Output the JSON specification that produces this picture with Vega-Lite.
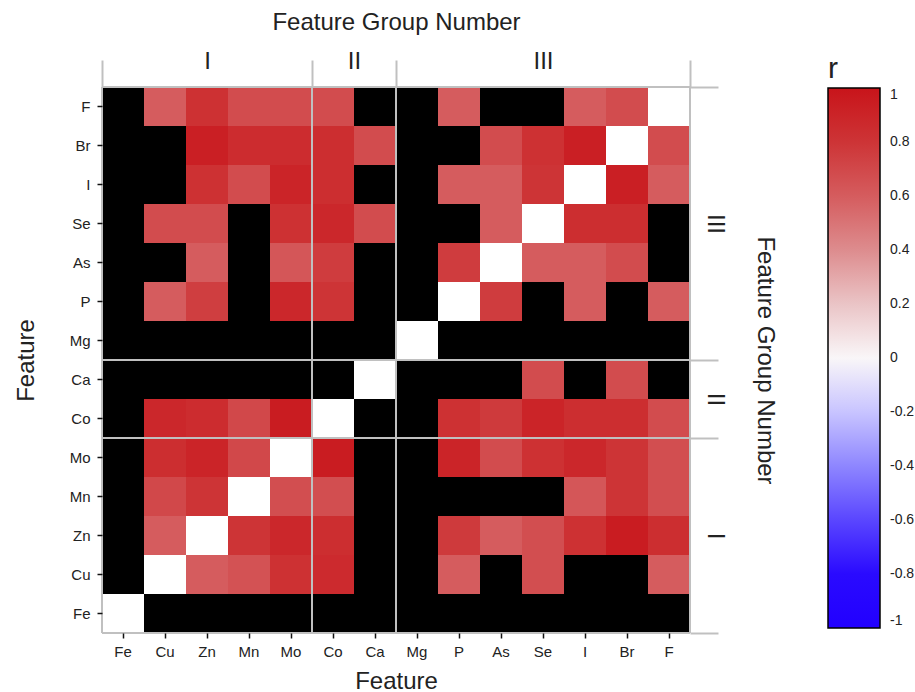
{
  "$schema": "https://vega.github.io/schema/vega-lite/v6.json",
  "width": 588,
  "height": 546,
  "autosize": {"type": "none"},
  "padding": {"left": 102, "top": 87, "right": 225, "bottom": 59},
  "background": "white",
  "config": {"font": "Liberation Sans", "view": {"stroke": null}},
  "datasets": {
    "groups": [
      {"group": "I", "start": 0, "end": 5},
      {"group": "II", "start": 5, "end": 7},
      {"group": "III", "start": 7, "end": 14}
    ],
    "cells": [
      {"x":"Fe","y":"F","r":null},{"x":"Cu","y":"F","r":0.6},{"x":"Zn","y":"F","r":0.82},{"x":"Mn","y":"F","r":0.68},{"x":"Mo","y":"F","r":0.68},{"x":"Co","y":"F","r":0.68},{"x":"Ca","y":"F","r":null},{"x":"Mg","y":"F","r":null},{"x":"P","y":"F","r":0.6},{"x":"As","y":"F","r":null},{"x":"Se","y":"F","r":null},{"x":"I","y":"F","r":0.6},{"x":"Br","y":"F","r":0.68},{"x":"F","y":"F","r":1},
      {"x":"Fe","y":"Br","r":null},{"x":"Cu","y":"Br","r":null},{"x":"Zn","y":"Br","r":0.93},{"x":"Mn","y":"Br","r":0.85},{"x":"Mo","y":"Br","r":0.85},{"x":"Co","y":"Br","r":0.84},{"x":"Ca","y":"Br","r":0.68},{"x":"Mg","y":"Br","r":null},{"x":"P","y":"Br","r":null},{"x":"As","y":"Br","r":0.68},{"x":"Se","y":"Br","r":0.82},{"x":"I","y":"Br","r":0.93},{"x":"Br","y":"Br","r":1},{"x":"F","y":"Br","r":0.68},
      {"x":"Fe","y":"I","r":null},{"x":"Cu","y":"I","r":null},{"x":"Zn","y":"I","r":0.82},{"x":"Mn","y":"I","r":0.68},{"x":"Mo","y":"I","r":0.9},{"x":"Co","y":"I","r":0.84},{"x":"Ca","y":"I","r":null},{"x":"Mg","y":"I","r":null},{"x":"P","y":"I","r":0.6},{"x":"As","y":"I","r":0.6},{"x":"Se","y":"I","r":0.8},{"x":"I","y":"I","r":1},{"x":"Br","y":"I","r":0.93},{"x":"F","y":"I","r":0.6},
      {"x":"Fe","y":"Se","r":null},{"x":"Cu","y":"Se","r":0.68},{"x":"Zn","y":"Se","r":0.68},{"x":"Mn","y":"Se","r":null},{"x":"Mo","y":"Se","r":0.82},{"x":"Co","y":"Se","r":0.88},{"x":"Ca","y":"Se","r":0.68},{"x":"Mg","y":"Se","r":null},{"x":"P","y":"Se","r":null},{"x":"As","y":"Se","r":0.6},{"x":"Se","y":"Se","r":1},{"x":"I","y":"Se","r":0.84},{"x":"Br","y":"Se","r":0.84},{"x":"F","y":"Se","r":null},
      {"x":"Fe","y":"As","r":null},{"x":"Cu","y":"As","r":null},{"x":"Zn","y":"As","r":0.6},{"x":"Mn","y":"As","r":null},{"x":"Mo","y":"As","r":0.63},{"x":"Co","y":"As","r":0.76},{"x":"Ca","y":"As","r":null},{"x":"Mg","y":"As","r":null},{"x":"P","y":"As","r":0.76},{"x":"As","y":"As","r":1},{"x":"Se","y":"As","r":0.6},{"x":"I","y":"As","r":0.6},{"x":"Br","y":"As","r":0.68},{"x":"F","y":"As","r":null},
      {"x":"Fe","y":"P","r":null},{"x":"Cu","y":"P","r":0.6},{"x":"Zn","y":"P","r":0.75},{"x":"Mn","y":"P","r":null},{"x":"Mo","y":"P","r":0.88},{"x":"Co","y":"P","r":0.8},{"x":"Ca","y":"P","r":null},{"x":"Mg","y":"P","r":null},{"x":"P","y":"P","r":1},{"x":"As","y":"P","r":0.76},{"x":"Se","y":"P","r":null},{"x":"I","y":"P","r":0.6},{"x":"Br","y":"P","r":null},{"x":"F","y":"P","r":0.6},
      {"x":"Fe","y":"Mg","r":null},{"x":"Cu","y":"Mg","r":null},{"x":"Zn","y":"Mg","r":null},{"x":"Mn","y":"Mg","r":null},{"x":"Mo","y":"Mg","r":null},{"x":"Co","y":"Mg","r":null},{"x":"Ca","y":"Mg","r":null},{"x":"Mg","y":"Mg","r":1},{"x":"P","y":"Mg","r":null},{"x":"As","y":"Mg","r":null},{"x":"Se","y":"Mg","r":null},{"x":"I","y":"Mg","r":null},{"x":"Br","y":"Mg","r":null},{"x":"F","y":"Mg","r":null},
      {"x":"Fe","y":"Ca","r":null},{"x":"Cu","y":"Ca","r":null},{"x":"Zn","y":"Ca","r":null},{"x":"Mn","y":"Ca","r":null},{"x":"Mo","y":"Ca","r":null},{"x":"Co","y":"Ca","r":null},{"x":"Ca","y":"Ca","r":1},{"x":"Mg","y":"Ca","r":null},{"x":"P","y":"Ca","r":null},{"x":"As","y":"Ca","r":null},{"x":"Se","y":"Ca","r":0.68},{"x":"I","y":"Ca","r":null},{"x":"Br","y":"Ca","r":0.68},{"x":"F","y":"Ca","r":null},
      {"x":"Fe","y":"Co","r":null},{"x":"Cu","y":"Co","r":0.88},{"x":"Zn","y":"Co","r":0.85},{"x":"Mn","y":"Co","r":0.7},{"x":"Mo","y":"Co","r":0.95},{"x":"Co","y":"Co","r":1},{"x":"Ca","y":"Co","r":null},{"x":"Mg","y":"Co","r":null},{"x":"P","y":"Co","r":0.82},{"x":"As","y":"Co","r":0.77},{"x":"Se","y":"Co","r":0.9},{"x":"I","y":"Co","r":0.84},{"x":"Br","y":"Co","r":0.84},{"x":"F","y":"Co","r":0.68},
      {"x":"Fe","y":"Mo","r":null},{"x":"Cu","y":"Mo","r":0.84},{"x":"Zn","y":"Mo","r":0.9},{"x":"Mn","y":"Mo","r":0.7},{"x":"Mo","y":"Mo","r":1},{"x":"Co","y":"Mo","r":0.95},{"x":"Ca","y":"Mo","r":null},{"x":"Mg","y":"Mo","r":null},{"x":"P","y":"Mo","r":0.9},{"x":"As","y":"Mo","r":0.68},{"x":"Se","y":"Mo","r":0.82},{"x":"I","y":"Mo","r":0.88},{"x":"Br","y":"Mo","r":0.8},{"x":"F","y":"Mo","r":0.67},
      {"x":"Fe","y":"Mn","r":null},{"x":"Cu","y":"Mn","r":0.7},{"x":"Zn","y":"Mn","r":0.8},{"x":"Mn","y":"Mn","r":1},{"x":"Mo","y":"Mn","r":0.67},{"x":"Co","y":"Mn","r":0.67},{"x":"Ca","y":"Mn","r":null},{"x":"Mg","y":"Mn","r":null},{"x":"P","y":"Mn","r":null},{"x":"As","y":"Mn","r":null},{"x":"Se","y":"Mn","r":null},{"x":"I","y":"Mn","r":0.63},{"x":"Br","y":"Mn","r":0.8},{"x":"F","y":"Mn","r":0.67},
      {"x":"Fe","y":"Zn","r":null},{"x":"Cu","y":"Zn","r":0.6},{"x":"Zn","y":"Zn","r":1},{"x":"Mn","y":"Zn","r":0.8},{"x":"Mo","y":"Zn","r":0.88},{"x":"Co","y":"Zn","r":0.84},{"x":"Ca","y":"Zn","r":null},{"x":"Mg","y":"Zn","r":null},{"x":"P","y":"Zn","r":0.77},{"x":"As","y":"Zn","r":0.6},{"x":"Se","y":"Zn","r":0.67},{"x":"I","y":"Zn","r":0.82},{"x":"Br","y":"Zn","r":0.95},{"x":"F","y":"Zn","r":0.84},
      {"x":"Fe","y":"Cu","r":null},{"x":"Cu","y":"Cu","r":1},{"x":"Zn","y":"Cu","r":0.6},{"x":"Mn","y":"Cu","r":0.65},{"x":"Mo","y":"Cu","r":0.82},{"x":"Co","y":"Cu","r":0.86},{"x":"Ca","y":"Cu","r":null},{"x":"Mg","y":"Cu","r":null},{"x":"P","y":"Cu","r":0.6},{"x":"As","y":"Cu","r":null},{"x":"Se","y":"Cu","r":0.67},{"x":"I","y":"Cu","r":null},{"x":"Br","y":"Cu","r":null},{"x":"F","y":"Cu","r":0.6},
      {"x":"Fe","y":"Fe","r":1},{"x":"Cu","y":"Fe","r":null},{"x":"Zn","y":"Fe","r":null},{"x":"Mn","y":"Fe","r":null},{"x":"Mo","y":"Fe","r":null},{"x":"Co","y":"Fe","r":null},{"x":"Ca","y":"Fe","r":null},{"x":"Mg","y":"Fe","r":null},{"x":"P","y":"Fe","r":null},{"x":"As","y":"Fe","r":null},{"x":"Se","y":"Fe","r":null},{"x":"I","y":"Fe","r":null},{"x":"Br","y":"Fe","r":null},{"x":"F","y":"Fe","r":null}
    ]
  },
  "layer": [
    {
      "data": {"name": "cells"},
      "encoding": {
        "x": {
          "field": "x", "type": "nominal",
          "sort": ["Fe","Cu","Zn","Mn","Mo","Co","Ca","Mg","P","As","Se","I","Br","F"],
          "scale": {"paddingInner": 0, "paddingOuter": 0, "round": false},
          "axis": {"orient": "bottom", "domain": false, "labelAngle": 0, "labelFontSize": 15, "labelColor": "#222", "labelPadding": 6, "tickSize": 5, "tickWidth": 1.5, "tickColor": "#111", "title": "Feature", "titleFontSize": 24, "titleFontWeight": "normal", "titleColor": "#222", "titlePadding": 10}
        },
        "y": {
          "field": "y", "type": "nominal",
          "sort": ["F","Br","I","Se","As","P","Mg","Ca","Co","Mo","Mn","Zn","Cu","Fe"],
          "scale": {"paddingInner": 0, "paddingOuter": 0, "round": false},
          "axis": {"orient": "left", "domain": false, "labelFontSize": 15, "labelColor": "#222", "labelPadding": 7, "tickSize": 5, "tickWidth": 1.5, "tickColor": "#111", "title": "Feature", "titleFontSize": 24, "titleFontWeight": "normal", "titleColor": "#222", "titlePadding": 31}
        }
      },
      "layer": [
        {"mark": {"type": "rect", "fill": "black"}},
        {
          "transform": [{"filter": "datum.r != null"}],
          "mark": {"type": "rect"},
          "encoding": {
            "color": {
              "condition": {"test": "datum.x === datum.y", "value": "white"},
              "field": "r", "type": "quantitative",
              "scale": {
                "domain": [-1, -0.8, -0.6, -0.4, -0.2, 0, 0.2, 0.4, 0.6, 0.8, 1],
                "range": ["#2200ff", "#2a0aff", "#5a46ff", "#8e86ff", "#c8c4ff", "#f9f6f8", "#eac4c6", "#dd8c8e", "#d55c5e", "#cd3436", "#c8141a"],
                "interpolate": "rgb"
              },
              "legend": {
                "orient": "none", "legendX": 726, "legendY": -33, "direction": "vertical",
                "title": "r", "titleFontSize": 30, "titleFontWeight": "normal", "titleColor": "#222", "titlePadding": 4, "titleAnchor": "start",
                "gradientLength": 540, "gradientThickness": 52, "gradientStrokeColor": "black", "gradientStrokeWidth": 1.5,
                "values": [-1, -0.8, -0.6, -0.4, -0.2, 0, 0.2, 0.4, 0.6, 0.8, 1],
                "labelExpr": "toString(round(datum.value*10)/10)",
                "labelFontSize": 14, "labelColor": "#222", "labelOffset": 10, "labelOverlap": false, "labelBaseline": "middle"
              }
            }
          }
        }
      ]
    },
    {
      "data": {"name": "groups"},
      "transform": [{"fold": ["start", "end"], "as": ["edge", "pos"]}],
      "mark": {"type": "rule", "color": "#c0c0c0", "strokeWidth": 2},
      "encoding": {
        "x": {
          "field": "pos", "type": "quantitative",
          "scale": {"domain": [0, 14], "nice": false, "zero": false},
          "axis": {
            "orient": "top", "values": [0, 2.5, 5, 6, 7, 10.5, 14],
            "labelExpr": "datum.value == 2.5 ? 'I' : datum.value == 6 ? 'II' : datum.value == 10.5 ? 'III' : ''",
            "domain": false, "grid": false, "zindex": 1,
            "tickSize": 27, "tickWidth": 2, "tickColor": "#c0c0c0",
            "tickOpacity": {"condition": {"test": "indexof([0, 5, 7, 14], datum.value) >= 0", "value": 1}, "value": 0},
            "labelFontSize": 24, "labelColor": "#222", "labelPadding": -13, "labelOverlap": false, "labelFlush": false,
            "title": "Feature Group Number", "titleFontSize": 24, "titleFontWeight": "normal", "titleColor": "#222", "titlePadding": 15
          }
        }
      }
    },
    {
      "data": {"name": "groups"},
      "transform": [{"fold": ["start", "end"], "as": ["edge", "pos"]}],
      "mark": {"type": "rule", "color": "#c0c0c0", "strokeWidth": 2},
      "encoding": {
        "y": {
          "field": "pos", "type": "quantitative",
          "scale": {"domain": [0, 14], "nice": false, "zero": false},
          "axis": {
            "orient": "right", "values": [0, 2.5, 5, 6, 7, 10.5, 14],
            "labelExpr": "datum.value == 2.5 ? 'I' : datum.value == 6 ? 'II' : datum.value == 10.5 ? 'III' : ''",
            "domain": false, "grid": false, "zindex": 1,
            "tickSize": 28, "tickWidth": 2, "tickColor": "#c0c0c0",
            "tickOpacity": {"condition": {"test": "indexof([0, 5, 7, 14], datum.value) >= 0", "value": 1}, "value": 0},
            "labelFontSize": 24, "labelColor": "#222", "labelAngle": 90, "labelAlign": "center", "labelBaseline": "bottom",
            "labelPadding": -16, "labelOverlap": false, "labelFlush": false,
            "title": "Feature Group Number", "titleFontSize": 24, "titleFontWeight": "normal", "titleColor": "#222", "titlePadding": 26
          }
        }
      }
    }
  ],
  "resolve": {
    "scale": {"x": "independent", "y": "independent"},
    "axis": {"x": "independent", "y": "independent"}
  }
}
